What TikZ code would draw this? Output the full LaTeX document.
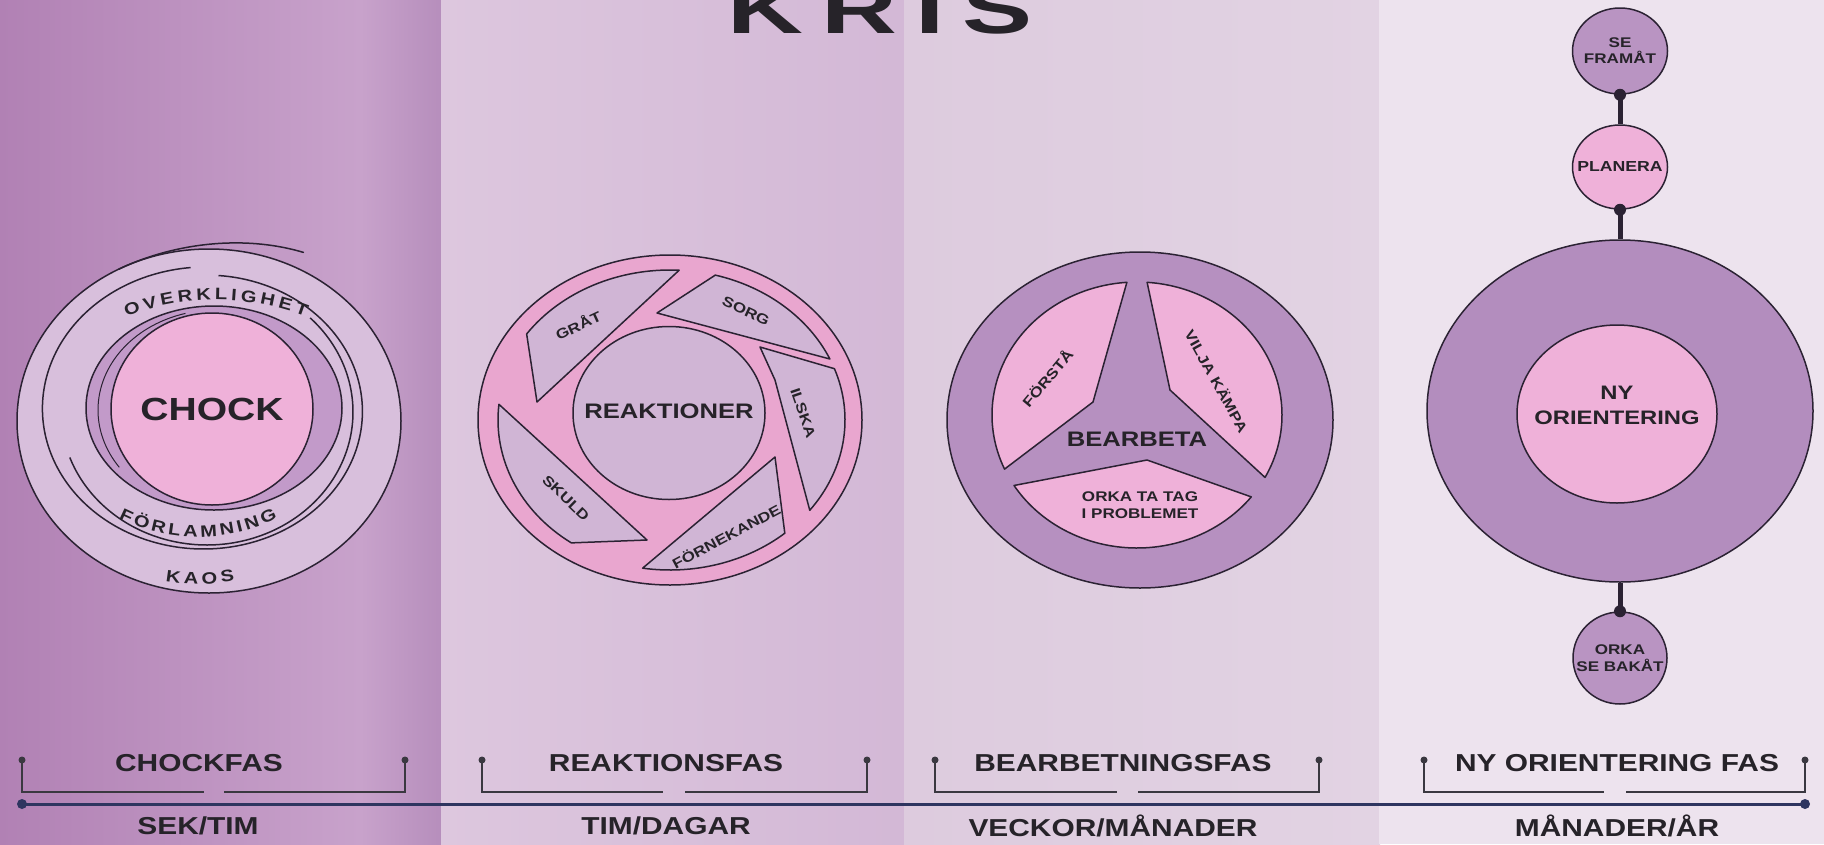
\documentclass[tikz,border=0pt]{standalone}
\usepackage{fontspec}
\setmainfont{Liberation Sans}
\newfontfamily\lab[FakeStretch=1.22]{Liberation Sans}
\newfontfamily\ttl[FakeStretch=1.5]{Liberation Sans}
\usetikzlibrary{calc,decorations.text,shapes.geometric}
\definecolor{bgA}{HTML}{B181B4}
\definecolor{bgB}{HTML}{C8A2CB}
\definecolor{bgC}{HTML}{B68EBC}
\definecolor{bgD}{HTML}{DDC7DE}
\definecolor{bgE}{HTML}{D3B8D6}
\definecolor{bgF}{HTML}{DDCBDE}
\definecolor{bgG}{HTML}{E2D3E3}
\definecolor{bgH}{HTML}{EDE3EE}
\definecolor{ringlt}{HTML}{D8BFDC}
\definecolor{ringmid}{HTML}{C29AC9}
\definecolor{pinkA}{HTML}{EFB1D9}
\definecolor{pinkR}{HTML}{E9A6CF}
\definecolor{lavR}{HTML}{D0B5D5}
\definecolor{medB}{HTML}{B690C0}
\definecolor{medN}{HTML}{B38DBE}
\definecolor{medS}{HTML}{B994C2}
\definecolor{ink}{HTML}{2B2233}
\definecolor{txt}{HTML}{262329}
\definecolor{tlc}{HTML}{2E3560}
\definecolor{brkc}{HTML}{3A3840}
\newcommand\ringfont{\lab\bfseries\fontsize{16.5}{16.5}\selectfont}
\begin{document}
\begin{tikzpicture}[x=1pt,y=-1pt,
  outl/.style={draw=ink,line width=1.5pt},
  blade/.style={outl,line join=round},
  lbl/.style={text=txt,inner sep=0pt,font=\lab\bfseries\fontsize{14}{16}\selectfont},
  big/.style={text=txt,inner sep=0pt,font=\lab\bfseries\fontsize{21}{25}\selectfont},
  phase/.style={text=txt,inner sep=0pt,font=\lab\bfseries\fontsize{24.5}{26}\selectfont},
  brk/.style={draw=brkc,line width=2pt},
  conn/.style={draw=ink,line width=5pt},
  ell/.style={ellipse,inner sep=0pt,outl}
]
\useasboundingbox (0,0) rectangle (1824,844);
% background bands
\shade[left color=bgA,right color=bgB] (0,0) rectangle (361,844);
\shade[left color=bgB,right color=bgC] (360,0) rectangle (442,844);
\shade[left color=bgD,right color=bgE] (441,0) rectangle (905,844);
\shade[left color=bgF,right color=bgG] (904,0) rectangle (1380,844);
\fill[bgH] (1379,0) rectangle (1824,844);
% title
\begin{scope}
\clip (0,0) rectangle (1824,844);
\node[anchor=base,inner sep=0pt,text=txt,font=\ttl\bfseries\fontsize{70}{70}\selectfont] (title) at (880,33) {K\kern18pt R\kern18pt I\kern18pt S};
\end{scope}
% ---------- CHOCK ----------
\filldraw[ringlt,outl] (209,421) ellipse [x radius=192pt, y radius=172pt];
\draw[outl,line cap=round] plot[domain=118:62,samples=50,smooth,variable=\t]
  ({209+(192+9*((118-\t)/56)^2)*cos(\t)},{421-(172+19*((118-\t)/56)^2)*sin(\t)});
\draw[outl] plot[domain=95:445,samples=140,smooth,variable=\t]
  ({205+(165-10*(\t-95)/350)*cos(\t)},{410-(143-8*(\t-95)/350)*sin(\t)});
\draw[outl] plot[domain=200:405,samples=80,smooth,variable=\t]
  ({207+146*cos(\t)},{412-133*sin(\t)});
\filldraw[ringmid,outl] (214,408) ellipse [x radius=128pt, y radius=102pt];
\draw[outl,line width=1pt] plot[domain=105:215,samples=50,smooth,variable=\t]
  ({216+118*cos(\t)},{410-100*sin(\t)});
\node[ell,fill=pinkA,minimum width=202pt,minimum height=192pt] (chock) at (212,409) {};
\node[text=txt,inner sep=0pt,font=\lab\bfseries\fontsize{32}{32}\selectfont] (chocktext) at (chock.center) {CHOCK};
\path[decorate,decoration={text along path,text color=txt,text align={fit to path},text={|\ringfont|OVERKLIGHET}}]
  ($(216,550)+(111:250pt)$) arc[start angle=111,end angle=69,radius=250pt];
\path[decorate,decoration={text along path,text color=txt,text align={fit to path},text={|\ringfont|FÖRLAMNING}}]
  ($(198,362)+(243:175pt)$) arc[start angle=243,end angle=297,radius=175pt];
\path[decorate,decoration={text along path,text color=txt,text align={fit to path},text={|\ringfont|KAOS}}]
  ($(200,384)+(260:200pt)$) arc[start angle=260,end angle=280,radius=200pt];
% ---------- REAKTIONER ----------
\node[ell,fill=pinkR,minimum width=384pt,minimum height=330pt] (reakring) at (670,420) {};
\filldraw[blade,fill=lavR] ($(670,420)+(145:175pt and 150pt)$) arc[start angle=145,end angle=87,x radius=175pt,y radius=150pt] -- (537,402) -- cycle;
\filldraw[blade,fill=lavR] ($(670,420)+(75:175pt and 150pt)$) arc[start angle=75,end angle=24,x radius=175pt,y radius=150pt] -- (657,313) -- cycle;
\filldraw[blade,fill=lavR] (760,347) -- ($(670,420)+(20:175pt and 150pt)$) arc[start angle=20,end angle=-37,x radius=175pt,y radius=150pt] -- (775,380) -- cycle;
\filldraw[blade,fill=lavR] (775,457) -- ($(670,420)+(-49:175pt and 150pt)$) arc[start angle=-49,end angle=-99,x radius=175pt,y radius=150pt] -- cycle;
\filldraw[blade,fill=lavR] ($(670,420)+(235:172pt and 150pt)$) arc[start angle=235,end angle=174,x radius=172pt,y radius=150pt] -- (647,540) -- cycle;
\node[ell,fill=lavR,minimum width=192pt,minimum height=173pt] (reak) at (669,413) {};
\node[big] (reaktext) at (669,411) {REAKTIONER};
\node[lbl,rotate=25] (grat) at (578,325) {GRÅT};
\node[lbl,rotate=-25] (sorg) at (746,311) {SORG};
\node[lbl,rotate=-71] (ilska) at (803,413) {ILSKA};
\node[lbl,rotate=28] (fornek) at (726,536) {FÖRNEKANDE};
\node[lbl,rotate=-44] (skuld) at (566,498) {SKULD};
% ---------- BEARBETA ----------
\node[ell,fill=medB,minimum width=386pt,minimum height=336pt] (bearring) at (1140,420) {};
\filldraw[blade,fill=pinkA] (1093,402) -- ($(1137,415)+(204:145pt and 133pt)$) arc[start angle=204,end angle=94,x radius=145pt,y radius=133pt] -- cycle;
\filldraw[blade,fill=pinkA] (1170,390) -- ($(1137,415)+(-28:145pt and 133pt)$) arc[start angle=-28,end angle=86,x radius=145pt,y radius=133pt] -- cycle;
\filldraw[blade,fill=pinkA] ($(1137,415)+(212:145pt and 133pt)$) -- (1147,460) -- ($(1137,415)+(-38:145pt and 133pt)$) arc[start angle=-38,end angle=-148,x radius=145pt,y radius=133pt] -- cycle;
\node[big] (bear) at (1137,439) {BEARBETA};
\node[lbl,rotate=50] (forsta) at (1047,378) {FÖRSTÅ};
\node[lbl,rotate=-61] (vilja) at (1217,381) {VILJA KÄMPA};
\node[lbl,align=center,font=\lab\bfseries\fontsize{14}{17}\selectfont] (orka) at (1140,505) {ORKA TA TAG\\I PROBLEMET};
% ---------- NY ORIENTERING ----------
\node[ell,fill=medN,minimum width=386pt,minimum height=342pt] (nyring) at (1620,411) {};
\node[ell,fill=pinkA,minimum width=200pt,minimum height=178pt] (ny) at (1617,414) {};
\node[big,align=center,font=\lab\bfseries\fontsize{19.5}{25}\selectfont] (nytext) at (1617,405) {NY\\ORIENTERING};
\node[ell,fill=medS,minimum width=95pt,minimum height=86pt] (se) at (1620,51) {};
\node[ell,fill=pinkA,minimum width=95pt,minimum height=84pt] (pl) at (1620,167) {};
\node[ell,fill=medS,minimum width=94pt,minimum height=92pt] (ob) at (1620,658) {};
\node[lbl,align=center] (setext) at (se.center) {SE\\FRAMÅT};
\node[lbl,font=\lab\bfseries\fontsize{14.5}{16}\selectfont] (pltext) at (pl.center) {PLANERA};
\node[lbl,align=center,font=\lab\bfseries\fontsize{14}{17}\selectfont] (obtext) at (ob.center) {ORKA\\SE BAKÅT};
\draw[conn] (se.south) -- (pl.north);
\draw[conn] (pl.south) -- (nyring.north);
\draw[conn] (nyring.south) -- (ob.north);
\fill[ink] (se.south) circle[radius=6pt];
\fill[ink] (pl.south) circle[radius=6pt];
\fill[ink] (ob.north) circle[radius=6pt];
% ---------- timeline ----------
\coordinate (t0) at (22,804);
\coordinate (t1) at (1805,804);
\draw[draw=tlc,line width=3pt] (t0) -- (t1);
\fill[tlc] (t0) circle[radius=5pt];
\fill[tlc] (t1) circle[radius=5pt];
\foreach \a/\gl/\gr/\b in {22/204/224/405, 482/663/685/867, 935/1117/1138/1319, 1424/1604/1626/1805}{
  \draw[brk] (\a,760) -- (\a,792) -- (\gl,792);
  \draw[brk] (\gr,792) -- (\b,792) -- (\b,760);
  \fill[brkc] (\a,760) circle[radius=3.5pt];
  \fill[brkc] (\b,760) circle[radius=3.5pt];
}
\node[phase] (p1) at (199,763) {CHOCKFAS};
\node[phase] (p2) at (666,763) {REAKTIONSFAS};
\node[phase] (p3) at (1123,763) {BEARBETNINGSFAS};
\node[phase] (p4) at (1617,763) {NY ORIENTERING FAS};
\node[phase] (d1) at (198,826) {SEK/TIM};
\node[phase] (d2) at (666,826) {TIM/DAGAR};
\node[phase] (d3) at (1113,826) {VECKOR/MÅNADER};
\node[phase] (d4) at (1617,826) {MÅNADER/ÅR};
\end{tikzpicture}
\end{document}
